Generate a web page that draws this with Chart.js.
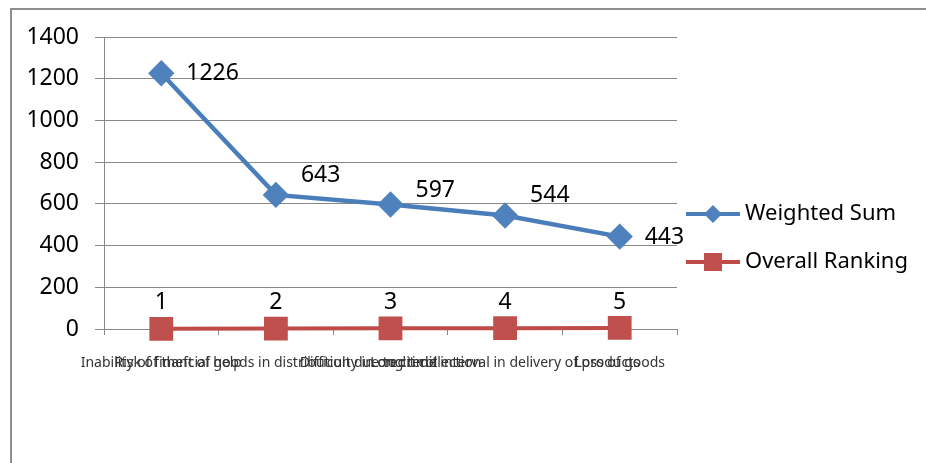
<!DOCTYPE html>
<html>
<head>
<meta charset="utf-8">
<script src="https://cdn.jsdelivr.net/npm/chart.js@4.4.0/dist/chart.umd.min.js"></script>
<style>
  html, body { margin: 0; padding: 0; background: #fff; overflow: hidden; }
  #wrap { position: relative; width: 926px; height: 463px; }
  #frame { position: absolute; left: 10px; top: 8px; width: 1000px; height: 1000px; border: 2px solid #8e8e8e; box-sizing: border-box; }
  canvas { position: absolute; left: 0; top: 0; }
</style>
</head>
<body>
<div id="wrap">
  <div id="frame"></div>
  <canvas id="chart" width="926" height="463"></canvas>
</div>
<script>
// Du lieu bieu do
const categories = [
  'Inability of financial help',
  'Risk of theft of goods in distribution due to credit',
  'Difficulty in credit collection',
  'Long time interval in delivery of products',
  'Loss of goods'
]
const weightedSum = [1226, 643, 597, 544, 443]
const overallRanking = [1, 2, 3, 4, 5]
const yTicks = [0, 200, 400, 600, 800, 1000, 1200, 1400]

const FONT = '"Noto Sans", "Open Sans", sans-serif'
const BLUE = '#4A7EBB'
const RED = '#BE4B48'

// do lech nhan du lieu (chi la kieu dang)
const blueLabelDy = [0, -19, -14, -20, 1]

const labelPlugin = {
  id: 'pointLabels',
  afterDatasetsDraw(chart) {
    const ctx = chart.ctx
    ctx.save()
    ctx.font = '23px ' + FONT
    ctx.fillStyle = '#000'
    ctx.textBaseline = 'middle'
    chart.data.datasets.forEach((ds, di) => {
      const meta = chart.getDatasetMeta(di)
      meta.data.forEach((pt, i) => {
        if (di === 0) {
          ctx.textAlign = 'left'
          ctx.fillText(String(ds.data[i]), pt.x + 25, pt.y + blueLabelDy[i])
        } else {
          ctx.textAlign = 'center'
          ctx.fillText(String(ds.data[i]), pt.x, pt.y - 26)
        }
      })
    })
    ctx.restore()
  }
}

// Chu thich ve tay ben phai
const legendPlugin = {
  id: 'sideLegend',
  afterDraw(chart) {
    const ctx = chart.ctx
    const rows = [214, 262]
    ctx.save()
    chart.data.datasets.forEach((ds, di) => {
      const y = rows[di]
      ctx.strokeStyle = ds.borderColor
      ctx.lineWidth = 4
      ctx.beginPath()
      ctx.moveTo(686, y)
      ctx.lineTo(740, y)
      ctx.stroke()
      ctx.fillStyle = ds.pointBackgroundColor
      ctx.beginPath()
      if (di === 0) {
        ctx.moveTo(713, y - 9)
        ctx.lineTo(722, y)
        ctx.lineTo(713, y + 9)
        ctx.lineTo(704, y)
        ctx.closePath()
      } else {
        ctx.rect(704, y - 9, 18, 18)
      }
      ctx.fill()
      ctx.fillStyle = '#000'
      ctx.font = '22px ' + FONT
      ctx.textAlign = 'left'
      ctx.textBaseline = 'middle'
      ctx.fillText(ds.label, 745, y)
    })
    ctx.restore()
  }
}

const ctx = document.getElementById('chart').getContext('2d')

new Chart(ctx, {
  type: 'line',
  data: {
    labels: categories,
    datasets: [
      {
        label: 'Weighted Sum',
        data: weightedSum,
        borderColor: BLUE,
        backgroundColor: BLUE,
        pointBackgroundColor: '#4F81BD',
        pointBorderColor: '#4F81BD',
        pointStyle: 'rectRot',
        pointRadius: 10,
        borderWidth: 4.5,
        tension: 0,
        fill: false,
        clip: false
      },
      {
        label: 'Overall Ranking',
        data: overallRanking,
        borderColor: RED,
        backgroundColor: RED,
        pointBackgroundColor: '#C0504D',
        pointBorderColor: '#C0504D',
        pointStyle: 'rect',
        pointRadius: 14,
        borderWidth: 4,
        tension: 0,
        fill: false,
        clip: false
      }
    ]
  },
  options: {
    responsive: false,
    animation: false,
    devicePixelRatio: 1,
    layout: { padding: { left: 0, top: 37, right: 249, bottom: 89 } },
    plugins: {
      legend: { display: false },
      tooltip: { enabled: false }
    },
    scales: {
      x: {
        offset: true,
        grid: { offset: true, drawOnChartArea: false, drawTicks: true, tickLength: 6, color: '#888' },
        border: { display: true, color: '#888' },
        ticks: {
          autoSkip: false,
          maxRotation: 0,
          minRotation: 0,
          padding: 20,
          color: '#333',
          font: { family: FONT, size: 14 }
        },
        afterFit(scale) { scale.height = 45 }
      },
      y: {
        min: 0,
        max: 1400,
        afterBuildTicks(scale) { scale.ticks = yTicks.map(v => ({ value: v })) },
        grid: { color: '#888', lineWidth: 1, tickLength: 9 },
        border: { display: true, color: '#888' },
        ticks: {
          padding: 16,
          color: '#000',
          font: { family: FONT, size: 23 },
          callback: (value) => String(value)
        },
        afterFit(scale) { scale.width = 104 }
      }
    }
  },
  plugins: [labelPlugin, legendPlugin]
})
</script>
</body>
</html>
